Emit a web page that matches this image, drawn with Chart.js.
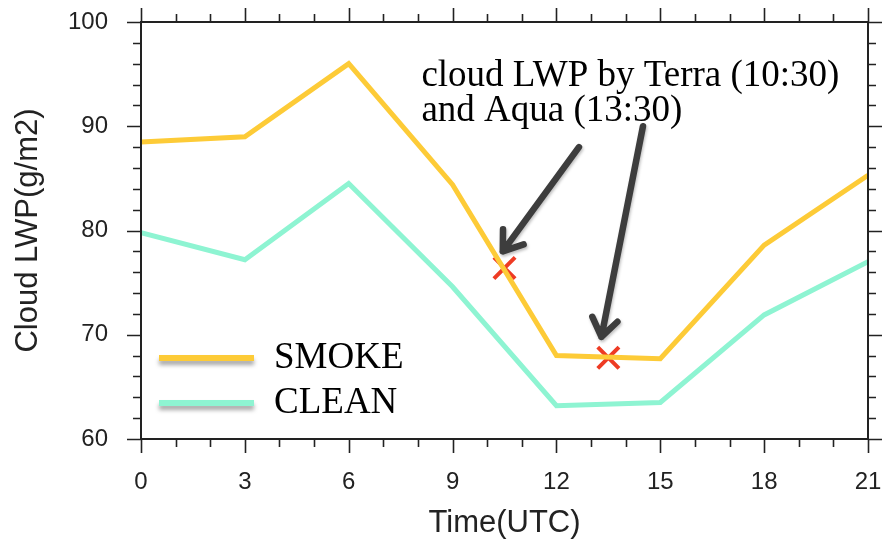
<!DOCTYPE html>
<html>
<head>
<meta charset="utf-8">
<script src="https://cdn.jsdelivr.net/npm/chart.js@4.4.1/dist/chart.umd.min.js"></script>
<style>
  html, body { margin: 0; padding: 0; background: #ffffff; }
  canvas { display: block; }
</style>
</head>
<body>
<canvas id="lwp" width="882" height="542"></canvas>
<script>
// Diurnal cycle of cloud liquid water path
const hours      = [0, 3, 6, 9, 12, 15, 18, 21];
const smokeLWP   = [88.5, 89.0, 96.0, 84.4, 68.0, 67.7, 78.6, 85.3];
const cleanLWP   = [79.8, 77.2, 84.5, 74.6, 63.2, 63.5, 71.9, 77.0];

// Satellite overpass times (Terra 10:30, Aqua 13:30) and LWP at those times
const overpassHours = [10.5, 13.5];
const overpassLWP   = [76.4, 67.8];

// Axis ranges and tick spacing
const xRange = [0, 21];
const yRange = [60, 100];
const xMajorStep = 3, xMinorStep = 1;
const yMajorStep = 10, yMinorStep = 2;

// Annotation text and arrows (data coordinates)
const noteLines  = ['cloud LWP by Terra (10:30)', 'and Aqua (13:30)'];
const noteAnchor = [8.1, 93.9];
const arrowFrom  = [[12.65, 88.0], [14.5, 90.0]];
const arrowTo    = [[10.45, 78.0], [13.3, 69.8]];

const SANS = "'Liberation Sans', Arial, Helvetica, sans-serif";
const SERIF = "'Liberation Serif', 'Times New Roman', serif";
const INK = '#222222';

const toXY = (xs, ys) => xs.map((x, i) => ({ x: x, y: ys[i] }));

// Keep the plot box fixed: no extra room reserved for overhanging labels
function fixScaleBox(scale, size) {
  if (scale.isHorizontal()) scale.height = size; else scale.width = size;
  scale.paddingTop = 0;
  scale.paddingBottom = 0;
  scale.paddingLeft = 0;
  scale.paddingRight = 0;
}

// Plot box position on the canvas
const plotBox = { left: 141, right: 868, top: 22, bottom: 439 };

// Box frame with outward major/minor tick marks on all four sides
const framePlugin = {
  id: 'frame',
  afterDraw(chart) {
    const { ctx, chartArea: a, scales } = chart;
    const xs = scales.x, ys = scales.y;
    ctx.save();
    ctx.strokeStyle = INK;
    ctx.lineWidth = 2;
    ctx.strokeRect(a.left, a.top, a.right - a.left, a.bottom - a.top);
    ctx.lineWidth = 1.6;
    ctx.beginPath();
    for (let v = xRange[0]; v <= xRange[1] + 1e-9; v += xMinorStep) {
      const len = (v % xMajorStep === 0) ? 14 : 8;
      const px = Math.round(xs.getPixelForValue(v)) + 0.5;
      ctx.moveTo(px, a.bottom); ctx.lineTo(px, a.bottom + len);
      ctx.moveTo(px, a.top);    ctx.lineTo(px, a.top - len);
    }
    for (let v = yRange[0]; v <= yRange[1] + 1e-9; v += yMinorStep) {
      const len = (v % yMajorStep === 0) ? 14 : 8;
      const py = Math.round(ys.getPixelForValue(v)) + 0.5;
      ctx.moveTo(a.left, py);  ctx.lineTo(a.left - len, py);
      ctx.moveTo(a.right, py); ctx.lineTo(a.right + len, py);
    }
    ctx.stroke();
    ctx.restore();
  }
};

// Annotation text with arrows pointing at the overpass markers
const notePlugin = {
  id: 'note',
  afterDraw(chart) {
    const { ctx, scales } = chart;
    const xs = scales.x, ys = scales.y;
    ctx.save();
    ctx.fillStyle = '#000000';
    ctx.font = '37px ' + SERIF;
    ctx.textBaseline = 'alphabetic';
    ctx.textAlign = 'left';
    const tx = xs.getPixelForValue(noteAnchor[0]);
    const ty = ys.getPixelForValue(noteAnchor[1]);
    noteLines.forEach((t, i) => ctx.fillText(t, tx, ty + i * 35));

    ctx.strokeStyle = '#3d3d3d';
    ctx.lineWidth = 6.5;
    ctx.lineCap = 'round';
    ctx.lineJoin = 'round';
    ctx.shadowColor = 'rgba(0,0,0,0.25)';
    ctx.shadowBlur = 3;
    ctx.shadowOffsetX = 1;
    ctx.shadowOffsetY = 2;
    arrowFrom.forEach((f, i) => {
      const x0 = xs.getPixelForValue(f[0]), y0 = ys.getPixelForValue(f[1]);
      const x1 = xs.getPixelForValue(arrowTo[i][0]), y1 = ys.getPixelForValue(arrowTo[i][1]);
      const ang = Math.atan2(y1 - y0, x1 - x0);
      const head = 22, spread = 0.62;
      ctx.beginPath();
      ctx.moveTo(x0, y0);
      ctx.lineTo(x1, y1);
      ctx.moveTo(x1 - head * Math.cos(ang - spread), y1 - head * Math.sin(ang - spread));
      ctx.lineTo(x1, y1);
      ctx.lineTo(x1 - head * Math.cos(ang + spread), y1 - head * Math.sin(ang + spread));
      ctx.stroke();
    });
    ctx.restore();
  }
};

// Line legend in the lower-left corner of the plot
const legendPlugin = {
  id: 'lineLegend',
  afterDraw(chart) {
    const { ctx, chartArea: a } = chart;
    const rows = [chart.data.datasets[0], chart.data.datasets[1]];
    ctx.save();
    rows.forEach((ds, i) => {
      const ly = a.bottom - 81 + i * 45;
      ctx.save();
      ctx.shadowColor = 'rgba(0,0,0,0.35)';
      ctx.shadowBlur = 4;
      ctx.shadowOffsetY = 4;
      ctx.strokeStyle = ds.borderColor;
      ctx.lineWidth = 6;
      ctx.lineCap = 'butt';
      ctx.beginPath();
      ctx.moveTo(a.left + 18, ly);
      ctx.lineTo(a.left + 113, ly);
      ctx.stroke();
      ctx.restore();
      ctx.fillStyle = '#000000';
      ctx.font = '37px ' + SERIF;
      ctx.textAlign = 'left';
      ctx.textBaseline = 'alphabetic';
      ctx.fillText(ds.label, a.left + 133, ly + 10);
    });
    ctx.restore();
  }
};

new Chart(document.getElementById('lwp'), {
  type: 'line',
  data: {
    datasets: [
      {
        label: 'SMOKE',
        data: toXY(hours, smokeLWP),
        borderColor: '#FDCB37',
        borderWidth: 5,
        pointRadius: 0,
        tension: 0,
        fill: false
      },
      {
        label: 'CLEAN',
        data: toXY(hours, cleanLWP),
        borderColor: '#8EF4D2',
        borderWidth: 5,
        pointRadius: 0,
        tension: 0,
        fill: false
      },
      {
        label: 'Overpass',
        data: toXY(overpassHours, overpassLWP),
        showLine: false,
        pointStyle: 'crossRot',
        pointRadius: 15,
        pointBorderWidth: 4,
        borderColor: '#EE3B24',
        backgroundColor: '#EE3B24'
      }
    ]
  },
  options: {
    responsive: false,
    animation: false,
    events: [],
    layout: {
      padding: {
        left: 0,
        right: 882 - plotBox.right,
        top: plotBox.top,
        bottom: 0
      },
      autoPadding: false
    },
    plugins: {
      legend: { display: false },
      tooltip: { enabled: false }
    },
    scales: {
      x: {
        type: 'linear',
        min: xRange[0],
        max: xRange[1],
        grid: { display: false, drawTicks: false },
        border: { display: false },
        ticks: {
          stepSize: xMajorStep,
          padding: 29,
          color: INK,
          font: { family: SANS, size: 24 },
          maxRotation: 0
        },
        title: {
          display: true,
          text: 'Time(UTC)',
          color: INK,
          font: { family: SANS, size: 31 },
          padding: { top: 0, bottom: 0 }
        },
        afterFit(scale) { fixScaleBox(scale, 542 - plotBox.bottom); }
      },
      y: {
        type: 'linear',
        min: yRange[0],
        max: yRange[1],
        grid: { display: false, drawTicks: false },
        border: { display: false },
        ticks: {
          stepSize: yMajorStep,
          padding: 33,
          color: INK,
          font: { family: SANS, size: 24 }
        },
        title: {
          display: true,
          text: 'Cloud LWP(g/m2)',
          color: INK,
          font: { family: SANS, size: 31 },
          padding: { top: 10, bottom: 0 }
        },
        afterFit(scale) { fixScaleBox(scale, plotBox.left); }
      }
    }
  },
  plugins: [framePlugin, notePlugin, legendPlugin]
});
</script>
</body>
</html>
